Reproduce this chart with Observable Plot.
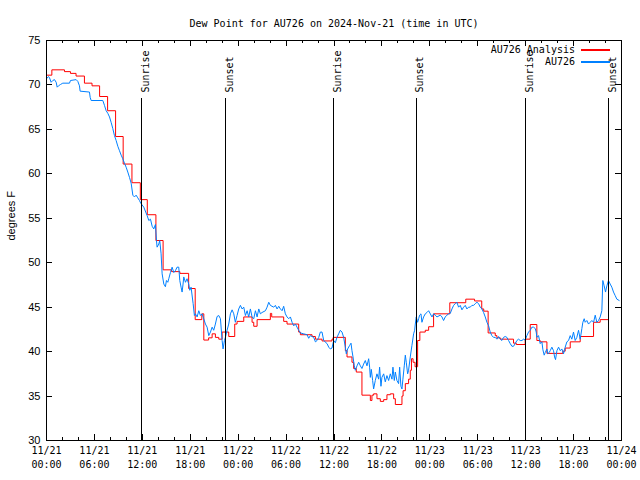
<!DOCTYPE html>
<html><head><meta charset="utf-8">
<script src="https://cdn.jsdelivr.net/npm/d3@7"></script>
<script src="https://cdn.jsdelivr.net/npm/@observablehq/plot@0.6"></script>
<style>
body{margin:0;background:#fff;}
</style></head><body><div id="wrap"></div>
<script>
// ---- data (hours since 2024-11-21 00:00 UTC) ----
const title = "Dew Point for AU726 on 2024-Nov-21 (time in UTC)";
const yLabel = "degrees F";
const seriesNames = ["AU726 Analysis", "AU726"];
const seriesColors = ["#ff0000", "#0080ff"];

const obsHours = [0,0.25,0.38,0.58,0.79,1.0,1.21,1.34,1.5,1.75,2.04,2.88,3.0,3.71,3.92,4.13,4.21,5.38,5.47,5.59,7.05,7.26,7.47,7.68,7.89,8.09,8.3,8.51,8.72,8.93,9.14,9.35,9.55,9.76,9.97,10.18,10.39,10.6,10.81,11.01,11.22,11.43,11.64,11.8,12.18,12.6,12.81,13.02,13.23,13.43,13.64,13.77,13.85,14.06,14.18,14.35,14.48,14.69,14.89,15.02,15.19,15.31,15.52,15.73,15.94,16.14,16.35,16.56,16.69,16.85,16.98,17.1,17.19,17.4,17.6,17.81,17.94,18.1,18.36,18.52,18.65,18.86,19.07,19.27,19.48,19.69,19.9,20.11,20.32,20.53,20.74,20.94,21.15,21.36,21.57,21.78,21.99,22.11,22.28,22.4,22.61,22.82,23.03,23.24,23.45,23.65,23.86,24.07,24.28,24.49,24.7,24.91,25.12,25.32,25.53,25.74,25.95,26.16,26.37,26.58,26.78,26.99,27.41,27.62,27.83,28.03,28.45,28.66,28.87,29.08,29.29,29.5,29.7,29.91,30.12,30.33,30.54,30.75,30.96,31.17,31.37,31.58,31.79,32.21,32.63,32.83,33.04,33.46,33.67,33.88,34.09,34.29,34.5,34.71,35.13,35.34,35.54,35.75,35.96,36.17,36.37,36.58,36.79,37.0,37.21,37.42,37.54,37.71,37.96,38.13,38.25,38.38,38.54,38.67,38.88,39.09,39.3,39.5,39.71,39.92,40.13,40.34,40.46,40.55,40.67,40.84,40.96,41.17,41.38,41.59,41.71,41.88,42.0,42.22,42.42,42.63,42.84,43.05,43.26,43.38,43.55,43.68,43.88,44.09,44.22,44.38,44.51,44.63,44.8,44.93,45.05,45.22,45.34,45.55,45.76,45.97,46.1,46.18,46.3,46.47,46.6,46.72,46.89,47.01,47.22,47.43,47.64,47.85,48.06,48.27,48.47,48.68,48.89,49.31,49.52,49.72,49.93,50.14,50.35,50.56,50.77,50.98,51.18,51.39,51.6,51.81,52.02,52.23,52.44,52.64,52.85,53.06,53.27,53.48,53.69,53.9,54.1,54.31,54.52,54.73,54.94,55.15,55.36,55.56,55.77,55.98,56.19,56.4,56.61,56.82,57.02,57.23,57.44,57.65,57.86,58.07,58.28,58.48,58.69,58.9,59.11,59.32,59.53,59.74,59.94,60.15,60.36,60.57,60.78,60.99,61.2,61.32,61.4,61.61,61.74,61.82,62.03,62.16,62.32,62.45,62.66,62.78,62.95,63.07,63.28,63.49,63.62,63.74,63.91,64.12,64.33,64.53,64.74,64.95,65.16,65.37,65.58,65.78,65.99,66.2,66.41,66.62,66.83,67.04,67.16,67.33,67.45,67.66,67.87,68.08,68.29,68.5,68.71,68.91,69.12,69.33,69.54,69.66,69.83,70.0,70.17,70.37,70.58,70.79,71.0,71.21,71.42,71.71];
const obsValues = [70.7,70.95,70.8,70.3,70.5,70.6,70.3,69.75,69.9,70.05,70.2,70.2,70.5,70.6,70.4,69.9,69.3,69.2,68.6,68.25,68.25,67.7,67.1,66.8,66.4,65.8,65.1,64.3,63.75,63.1,62.6,62.1,61.7,61.2,60.75,60.2,59.6,58.95,57.6,57.4,57.6,57.3,57.0,56.7,56.25,55.3,54.75,54.9,54.1,53.8,54.3,52.5,51.75,52.1,52.5,51.0,48.75,47.6,47.3,48.0,47.8,48.2,48.9,49.5,48.9,49.1,49.5,49.5,48.0,47.25,46.7,47.6,48.4,47.8,48.2,47.6,46.9,47.25,45.4,44.06,44.25,43.9,44.6,44.06,44.25,43.7,43.1,42.75,41.8,42.2,42.75,42.4,43.1,43.95,44.06,43.7,41.25,40.3,41.25,41.6,42.4,43.1,44.25,44.7,44.25,43.3,44.06,44.8,45.2,44.8,45.0,44.06,44.6,43.9,44.8,43.9,43.7,44.6,43.9,44.8,44.25,44.4,44.6,45.0,45.55,45.2,45.0,45.2,44.8,45.1,44.8,44.6,45.1,44.25,43.9,43.7,43.9,43.3,42.9,43.1,42.75,42.4,42.1,42.0,41.9,41.5,41.8,41.6,41.1,41.25,41.6,42.2,42.2,41.25,40.9,40.5,40.3,40.4,41.25,41.0,41.6,42.0,42.4,42.2,41.6,40.5,39.75,40.3,40.7,40.95,40.1,39.4,38.4,37.9,38.4,38.8,38.4,38.1,38.6,39.0,38.4,39.2,38.25,37.1,38.0,36.75,35.8,36.75,37.5,36.9,38.25,36.1,37.1,37.5,36.6,37.3,36.75,37.5,36.9,38.25,36.75,37.7,36.75,36.4,38.25,36.1,35.8,36.9,38.4,39.6,38.8,37.5,37.9,39.4,40.7,42.0,42.4,43.1,43.9,43.3,43.7,44.1,44.25,43.3,43.9,44.25,44.4,44.6,44.25,43.9,44.25,44.1,43.9,44.1,43.9,43.5,43.9,44.1,44.25,44.3,44.8,45.2,45.4,45.55,45.0,45.2,44.7,45.0,45.2,44.8,45.0,45.0,45.2,45.2,45.4,45.55,45.4,45.0,44.8,44.4,43.9,43.3,42.9,42.2,41.8,41.6,41.6,41.4,41.7,41.4,41.25,41.6,41.7,41.6,41.25,40.9,40.6,40.6,40.9,41.25,41.4,41.25,41.25,41.4,41.3,41.8,42.2,42.4,42.75,42.75,42.6,42.2,41.6,41.8,41.25,40.9,41.1,40.2,39.6,39.9,40.3,39.75,39.9,40.1,40.5,40.1,39.4,39.1,40.1,40.5,40.1,40.3,39.75,40.5,41.1,41.25,41.8,41.4,42.2,41.25,41.6,42.4,41.4,42.6,43.3,43.7,43.3,43.5,43.1,43.3,43.5,43.3,44.1,43.3,43.5,43.9,44.6,48.0,47.4,46.7,47.4,48.0,47.6,47.25,46.7,46.3,45.9,45.75];

const anaHours = [0,0.67,2.25,3.0,3.7,4.75,5.7,6.65,7.65,8.65,9.6,10.7,11.75,12.62,13.7,14.6,15.65,16.7,17.8,18.62,19.45,19.7,20.3,20.74,21.15,21.57,21.99,22.82,23.57,23.86,24.7,25.74,25.95,26.37,28.03,28.2,29.7,30.12,31.58,31.79,33.25,33.67,34.5,35.75,35.9,37.42,37.63,38.25,38.46,38.79,39.5,40.55,40.75,40.96,41.38,41.8,42.22,42.63,43.05,43.47,43.68,44.51,44.65,44.93,45.34,45.55,45.7,45.9,46.15,46.47,46.75,47.43,47.85,48.47,50.5,52.5,53.6,54.5,54.75,55.3,56.19,56.4,56.82,58.48,58.82,59.94,60.57,61.4,61.82,62.66,64.66,64.95,65.58,66.83,68.5,69.33,70.4];
const anaValues = [71.1,71.7,71.5,71.3,71.0,70.2,69.9,68.7,67.1,64.2,61.1,59.0,57.1,55.4,52.5,49.2,49.0,48.8,47.1,43.6,44.25,41.3,41.55,42.0,41.6,41.4,42.2,41.7,43.1,43.4,43.9,43.3,42.85,43.6,44.3,43.9,43.4,43.1,42.2,41.9,41.7,41.4,41.2,41.4,41.6,40.1,39.4,38.8,38.1,37.7,35.1,34.5,35.1,35.25,34.7,34.4,34.6,35.15,35.25,34.7,34.05,35.0,35.6,36.4,36.9,37.9,39.2,38.8,38.3,41.25,42.2,42.4,42.8,44.25,45.5,45.9,45.7,44.8,44.55,42.1,41.8,41.55,41.4,40.95,40.8,41.4,43.05,41.25,41.1,39.8,40.05,40.4,41.1,41.7,43.3,43.6,43.6];

const sunHours = [11.93, 22.42, 35.96, 46.31, 60.0, 70.38];
const sunLabels = ["Sunrise", "Sunset", "Sunrise", "Sunset", "Sunrise", "Sunset"];

const yTicks = [30,35,40,45,50,55,60,65,70,75];
const xLabelHours = [0,6,12,18,24,30,36,42,48,54,60,66,72];
const xMinorHours = d3.range(0, 73, 2);

// ---- build ----
const T0 = Date.UTC(2024, 10, 21);
const toDate = h => new Date(T0 + h * 3600000);
const obs = obsHours.map((h, i) => ({t: toDate(h), v: obsValues[i]}));
const ana = anaHours.map((h, i) => ({t: toDate(h), v: anaValues[i]}));
const sun = sunHours.map((h, i) => ({t: toDate(h), label: sunLabels[i]}));
const fmtDate = d3.utcFormat("%m/%d");
const fmtTime = d3.utcFormat("%H:%M");
const mono = "DejaVu Sans Mono";
const sans = "Liberation Sans";
const W = 640, H = 480, mL = 46, mR = 19, mT = 40, mB = 40;
const frameW = W - mL - mR, frameH = H - mT - mB;
const majLen = 6, minLen = 3;
const xMinor = xMinorHours.filter(h => h % 6 !== 0).map(toDate);
const xMajor = xLabelHours.map(toDate);

const chart = Plot.plot({
  width: W, height: H,
  marginLeft: mL, marginRight: mR, marginTop: mT, marginBottom: mB,
  x: {type: "utc", domain: [toDate(0), toDate(72)], axis: null},
  y: {domain: [30, 75], axis: null},
  style: {background: "white", fontFamily: mono, fontSize: "10px", color: "black"},
  marks: [
    Plot.line(ana, {x: "t", y: "v", stroke: seriesColors[0], strokeWidth: 1, curve: "step-after"}),
    Plot.line(obs, {x: "t", y: "v", stroke: seriesColors[1], strokeWidth: 1}),
    Plot.ruleX(sun, {x: "t", insetTop: 58, stroke: "black", strokeWidth: 1, shapeRendering: "crispEdges"}),
    Plot.text(sun, {x: "t", text: "label", frameAnchor: "top", dy: 52, rotate: -90, textAnchor: "start", fill: "black", fontFamily: mono, fontSize: 10}),
    // ticks (inward, mirrored)
    Plot.ruleX(xMajor, {insetTop: frameH - majLen, stroke: "black", shapeRendering: "crispEdges"}),
    Plot.ruleX(xMajor, {insetBottom: frameH - majLen, stroke: "black", shapeRendering: "crispEdges"}),
    Plot.ruleX(xMinor, {insetTop: frameH - minLen, stroke: "black", shapeRendering: "crispEdges"}),
    Plot.ruleX(xMinor, {insetBottom: frameH - minLen, stroke: "black", shapeRendering: "crispEdges"}),
    Plot.ruleY(yTicks, {insetRight: frameW - majLen, stroke: "black", shapeRendering: "crispEdges"}),
    Plot.ruleY(yTicks, {insetLeft: frameW - majLen, stroke: "black", shapeRendering: "crispEdges"}),
    Plot.frame({stroke: "black", shapeRendering: "crispEdges"}),
    // labels
    Plot.text(xMajor, {x: d => d, text: d => fmtDate(d), frameAnchor: "bottom", dy: 13, fill: "black", fontFamily: mono, fontSize: 10}),
    Plot.text(xMajor, {x: d => d, text: d => fmtTime(d), frameAnchor: "bottom", dy: 27, fill: "black", fontFamily: mono, fontSize: 10}),
    Plot.text(yTicks, {y: d => d, text: d => String(d), frameAnchor: "left", dx: -6, textAnchor: "end", fill: "black", fontFamily: sans, fontSize: 11}),
    Plot.text([yLabel], {text: d => d, frameAnchor: "left", dx: -35, rotate: -90, fill: "black", fontFamily: sans, fontSize: 11}),
    Plot.text([title], {text: d => d, frameAnchor: "top", dy: -21, fill: "black", fontFamily: mono, fontSize: 10})
  ]
});
document.getElementById("wrap").appendChild(chart);

// legend: entries in the upper-right corner of the frame
const svg = d3.select(chart);
const leg = svg.append("g").attr("font-family", mono).attr("font-size", 10);
seriesNames.forEach((name, i) => {
  const cy = mT + 10 + i * 12;
  leg.append("text").attr("x", W - mR - 46).attr("y", cy).attr("dy", "0.32em")
    .attr("text-anchor", "end").attr("fill", "black").text(name);
  leg.append("rect").attr("x", W - mR - 40).attr("width", 29)
    .attr("y", cy - 1.5).attr("height", 2)
    .attr("fill", seriesColors[i]).attr("shape-rendering", "crispEdges");
});
</script></body></html>
